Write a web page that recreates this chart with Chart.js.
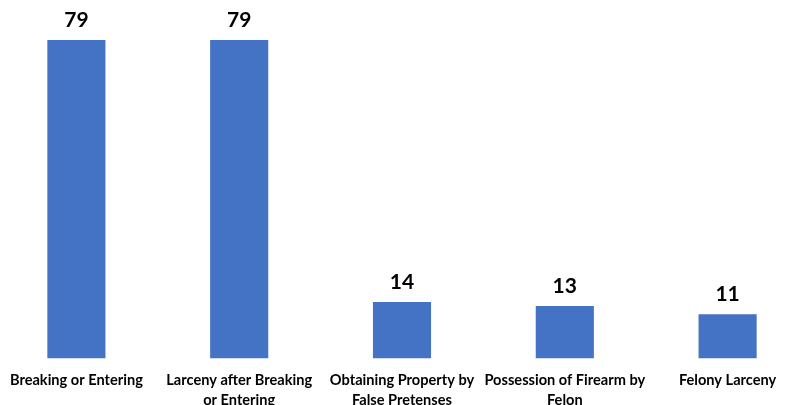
<!DOCTYPE html>
<html>
<head>
<meta charset="utf-8">
<script src="https://cdn.jsdelivr.net/npm/chart.js@4/dist/chart.umd.min.js"></script>
<style>
  html, body { margin: 0; padding: 0; background: #fff; overflow: hidden; width: 794px; height: 405px; }
  #wrap { position: absolute; left: -5.4px; top: 0; width: 814px; height: 405px; }
</style>
</head>
<body>
<div id="wrap"><canvas id="c"></canvas></div>
<script>
const categories = [
  ["Breaking or Entering"],
  ["Larceny after Breaking", "or Entering"],
  ["Obtaining Property by", "False Pretenses"],
  ["Possession of Firearm by", "Felon"],
  ["Felony Larceny"]
];
const values = [79, 79, 14, 13, 11];

const valueLabels = {
  id: 'valueLabels',
  afterDatasetsDraw(chart) {
    const ctx = chart.ctx;
    const meta = chart.getDatasetMeta(0);
    ctx.save();
    ctx.font = 'bold 21px Lato, "Liberation Sans", sans-serif';
    ctx.fillStyle = '#000';
    ctx.textAlign = 'center';
    ctx.textBaseline = 'bottom';
    meta.data.forEach((bar, i) => {
      ctx.fillText(String(chart.data.datasets[0].data[i]), bar.x, bar.y - 9);
    });
    ctx.restore();
  }
};

new Chart(document.getElementById('c'), {
  type: 'bar',
  data: {
    labels: categories,
    datasets: [{
      data: values,
      backgroundColor: '#4472C4',
      borderWidth: 0,
      categoryPercentage: 1,
      barPercentage: 0.357
    }]
  },
  options: {
    responsive: true,
    maintainAspectRatio: false,
    animation: false,
    layout: { padding: { top: 40, left: 0, right: 0, bottom: 0 } },
    plugins: { legend: { display: false }, tooltip: { enabled: false } },
    scales: {
      x: {
        grid: { display: false, drawTicks: false },
        border: { display: false },
        ticks: {
          color: '#000',
          font: { family: 'Lato, "Liberation Sans", sans-serif', size: 14.6, weight: 'bold', lineHeight: 1.35 },
          padding: 12,
          maxRotation: 0,
          autoSkip: false
        },
        afterFit(scale) { scale.height = 46.5; }
      },
      y: {
        display: false,
        min: 0,
        max: 79
      }
    }
  },
  plugins: [valueLabels]
});
</script>
</body>
</html>
